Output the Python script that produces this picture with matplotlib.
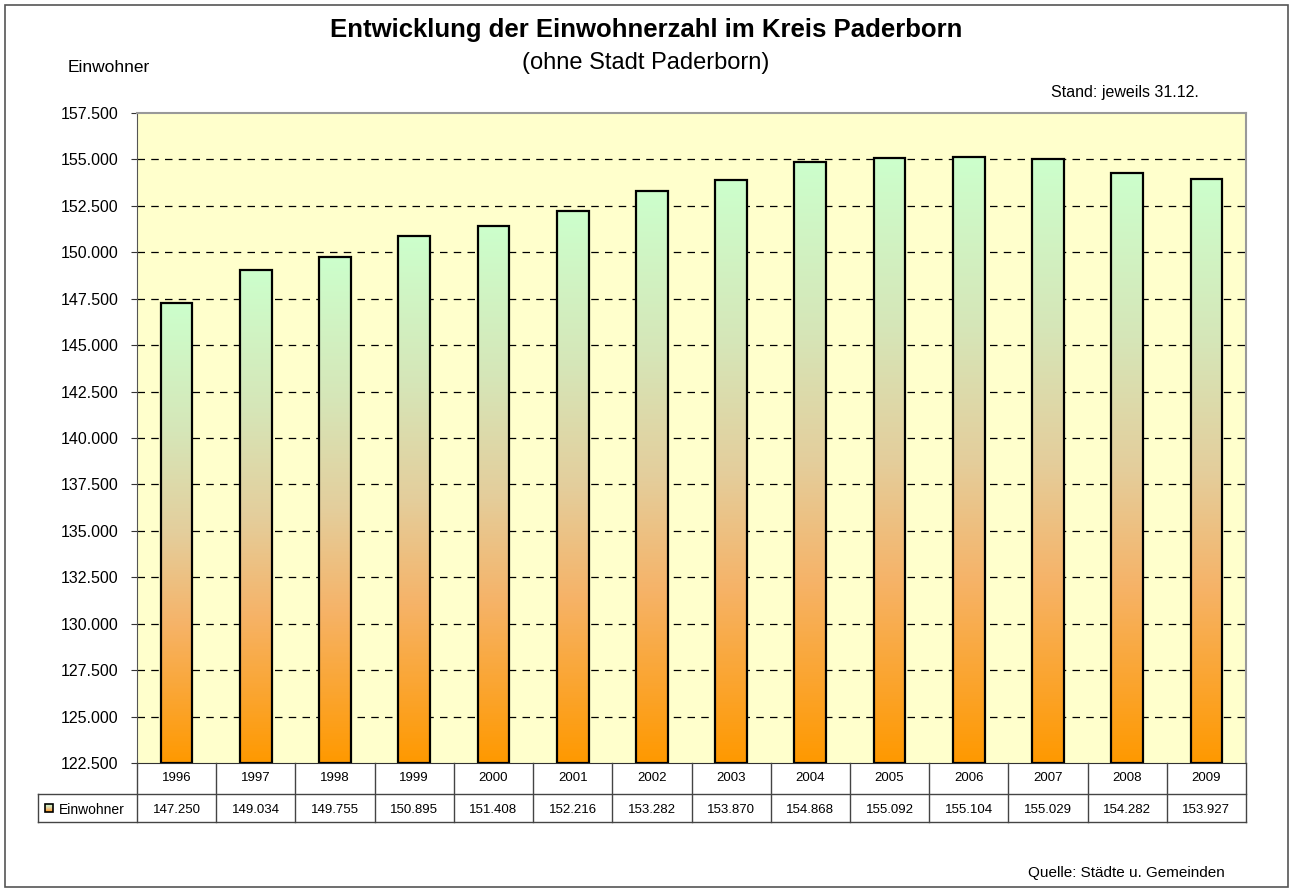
import numpy as np
import matplotlib
matplotlib.use('Agg')
import matplotlib.pyplot as plt
from matplotlib.colors import LinearSegmentedColormap
from matplotlib.patches import Rectangle

plt.rcParams['font.family'] = ['Liberation Sans', 'DejaVu Sans']

years = ['1996', '1997', '1998', '1999', '2000', '2001', '2002',
         '2003', '2004', '2005', '2006', '2007', '2008', '2009']
einwohner = [147250, 149034, 149755, 150895, 151408, 152216, 153282,
             153870, 154868, 155092, 155104, 155029, 154282, 153927]
y_min, y_max, y_step = 122500, 157500, 2500


def de_fmt(v):
    return f'{v:,.0f}'.replace(',', '.')


W, H = 1294, 894
fig = plt.figure(figsize=(W / 100, H / 100), dpi=100)

# plot area in pixels
px_l, px_r, px_t, px_b = 137, 1246, 113, 763
ax = fig.add_axes([px_l / W, 1 - px_b / H, (px_r - px_l) / W, (px_b - px_t) / H])
ax.set_facecolor('#FFFFCC')

n = len(years)
x = np.arange(n)
ticks = np.arange(y_min, y_max + 1, y_step)
ax.set_yticks(ticks)
ax.set_yticklabels([de_fmt(t) for t in ticks], fontsize=11.5)
ax.set_xticks([])
ax.tick_params(axis='y', length=4.3, width=0.8, color='#333333', pad=9)

for t in ticks[1:-1]:
    ax.axhline(t, color='black', lw=0.9, ls=(0, (6, 5)), zorder=1)

for s in ['top', 'right']:
    ax.spines[s].set_color('#999999')
    ax.spines[s].set_linewidth(1.5)
ax.spines['left'].set_color('#555555')
ax.spines['bottom'].set_color('#333333')

cmap = LinearSegmentedColormap.from_list(
    'grad', [(0.0, '#FF9900'), (0.3, '#F6B368'), (0.5, '#E4CE9C'),
             (0.72, '#D6E6B8'), (1.0, '#CCFFCC')])
grad = np.linspace(0, 1, 256).reshape(-1, 1)
bw = 0.4
for xi, v in zip(x, einwohner):
    ax.imshow(grad, cmap=cmap, origin='lower', aspect='auto',
              extent=(xi - bw / 2, xi + bw / 2, y_min, v), zorder=2)
    ax.add_patch(Rectangle((xi - bw / 2, y_min), bw, v - y_min, fill=False,
                           ec='black', lw=1.6, zorder=3))
ax.set_xlim(-0.5, n - 0.5)
ax.set_ylim(y_min, y_max)

# overlay in pixel coordinates for texts, table and frame
ov = fig.add_axes([0, 0, 1, 1], zorder=-1)
ov.set_xlim(0, W)
ov.set_ylim(H, 0)
ov.axis('off')
ov.add_patch(Rectangle((5, 5), 1283, 882, fill=False, ec='#555555', lw=1.2))

top = fig.add_axes([0, 0, 1, 1], zorder=5)
top.axis('off')
top.patch.set_alpha(0)

top.text(646, 30, 'Entwicklung der Einwohnerzahl im Kreis Paderborn',
         ha='center', va='center', fontsize=18.5, fontweight='bold')
top.text(646, 63, '(ohne Stadt Paderborn)', ha='center', va='center', fontsize=17)
top.text(109, 68, 'Einwohner', ha='center', va='center', fontsize=12.5)
top.text(1199, 93, 'Stand: jeweils 31.12.', ha='right', va='center', fontsize=11.5)
top.text(1225, 873, 'Quelle: Städte u. Gemeinden', ha='right', va='center', fontsize=11)

# data table
cw = (px_r - px_l) / n
r1, r2, r3 = 763, 794, 822
lbl_l = 38
lc = '#444444'
top.plot([lbl_l, px_r], [r2, r2], color=lc, lw=1)
top.plot([lbl_l, px_r], [r3, r3], color=lc, lw=1)
top.plot([lbl_l, lbl_l], [r2, r3], color=lc, lw=1)
top.plot([px_r, px_r], [r1, r3], color=lc, lw=1)
for i in range(n):
    xl = px_l + i * cw
    top.plot([xl, xl], [r1, r3], color=lc, lw=1)
    xc = xl + cw / 2
    top.text(xc, 778, years[i], ha='center', va='center', fontsize=9.5)
    top.text(xc, 810, de_fmt(einwohner[i]), ha='center', va='center',
             fontsize=9.5)

# legend key in table
ky = 808
top.imshow(grad, cmap=cmap, origin='lower', aspect='auto',
           extent=(45, 53, ky + 4, ky - 4), zorder=6)
top.add_patch(Rectangle((45, ky - 4), 8, 8, fill=False, ec='black',
                        lw=1.2, zorder=7))
top.text(59, 810, 'Einwohner', ha='left', va='center', fontsize=10)
top.set_xlim(0, W)
top.set_ylim(H, 0)

fig.savefig('out.png', dpi=100, facecolor='white')
